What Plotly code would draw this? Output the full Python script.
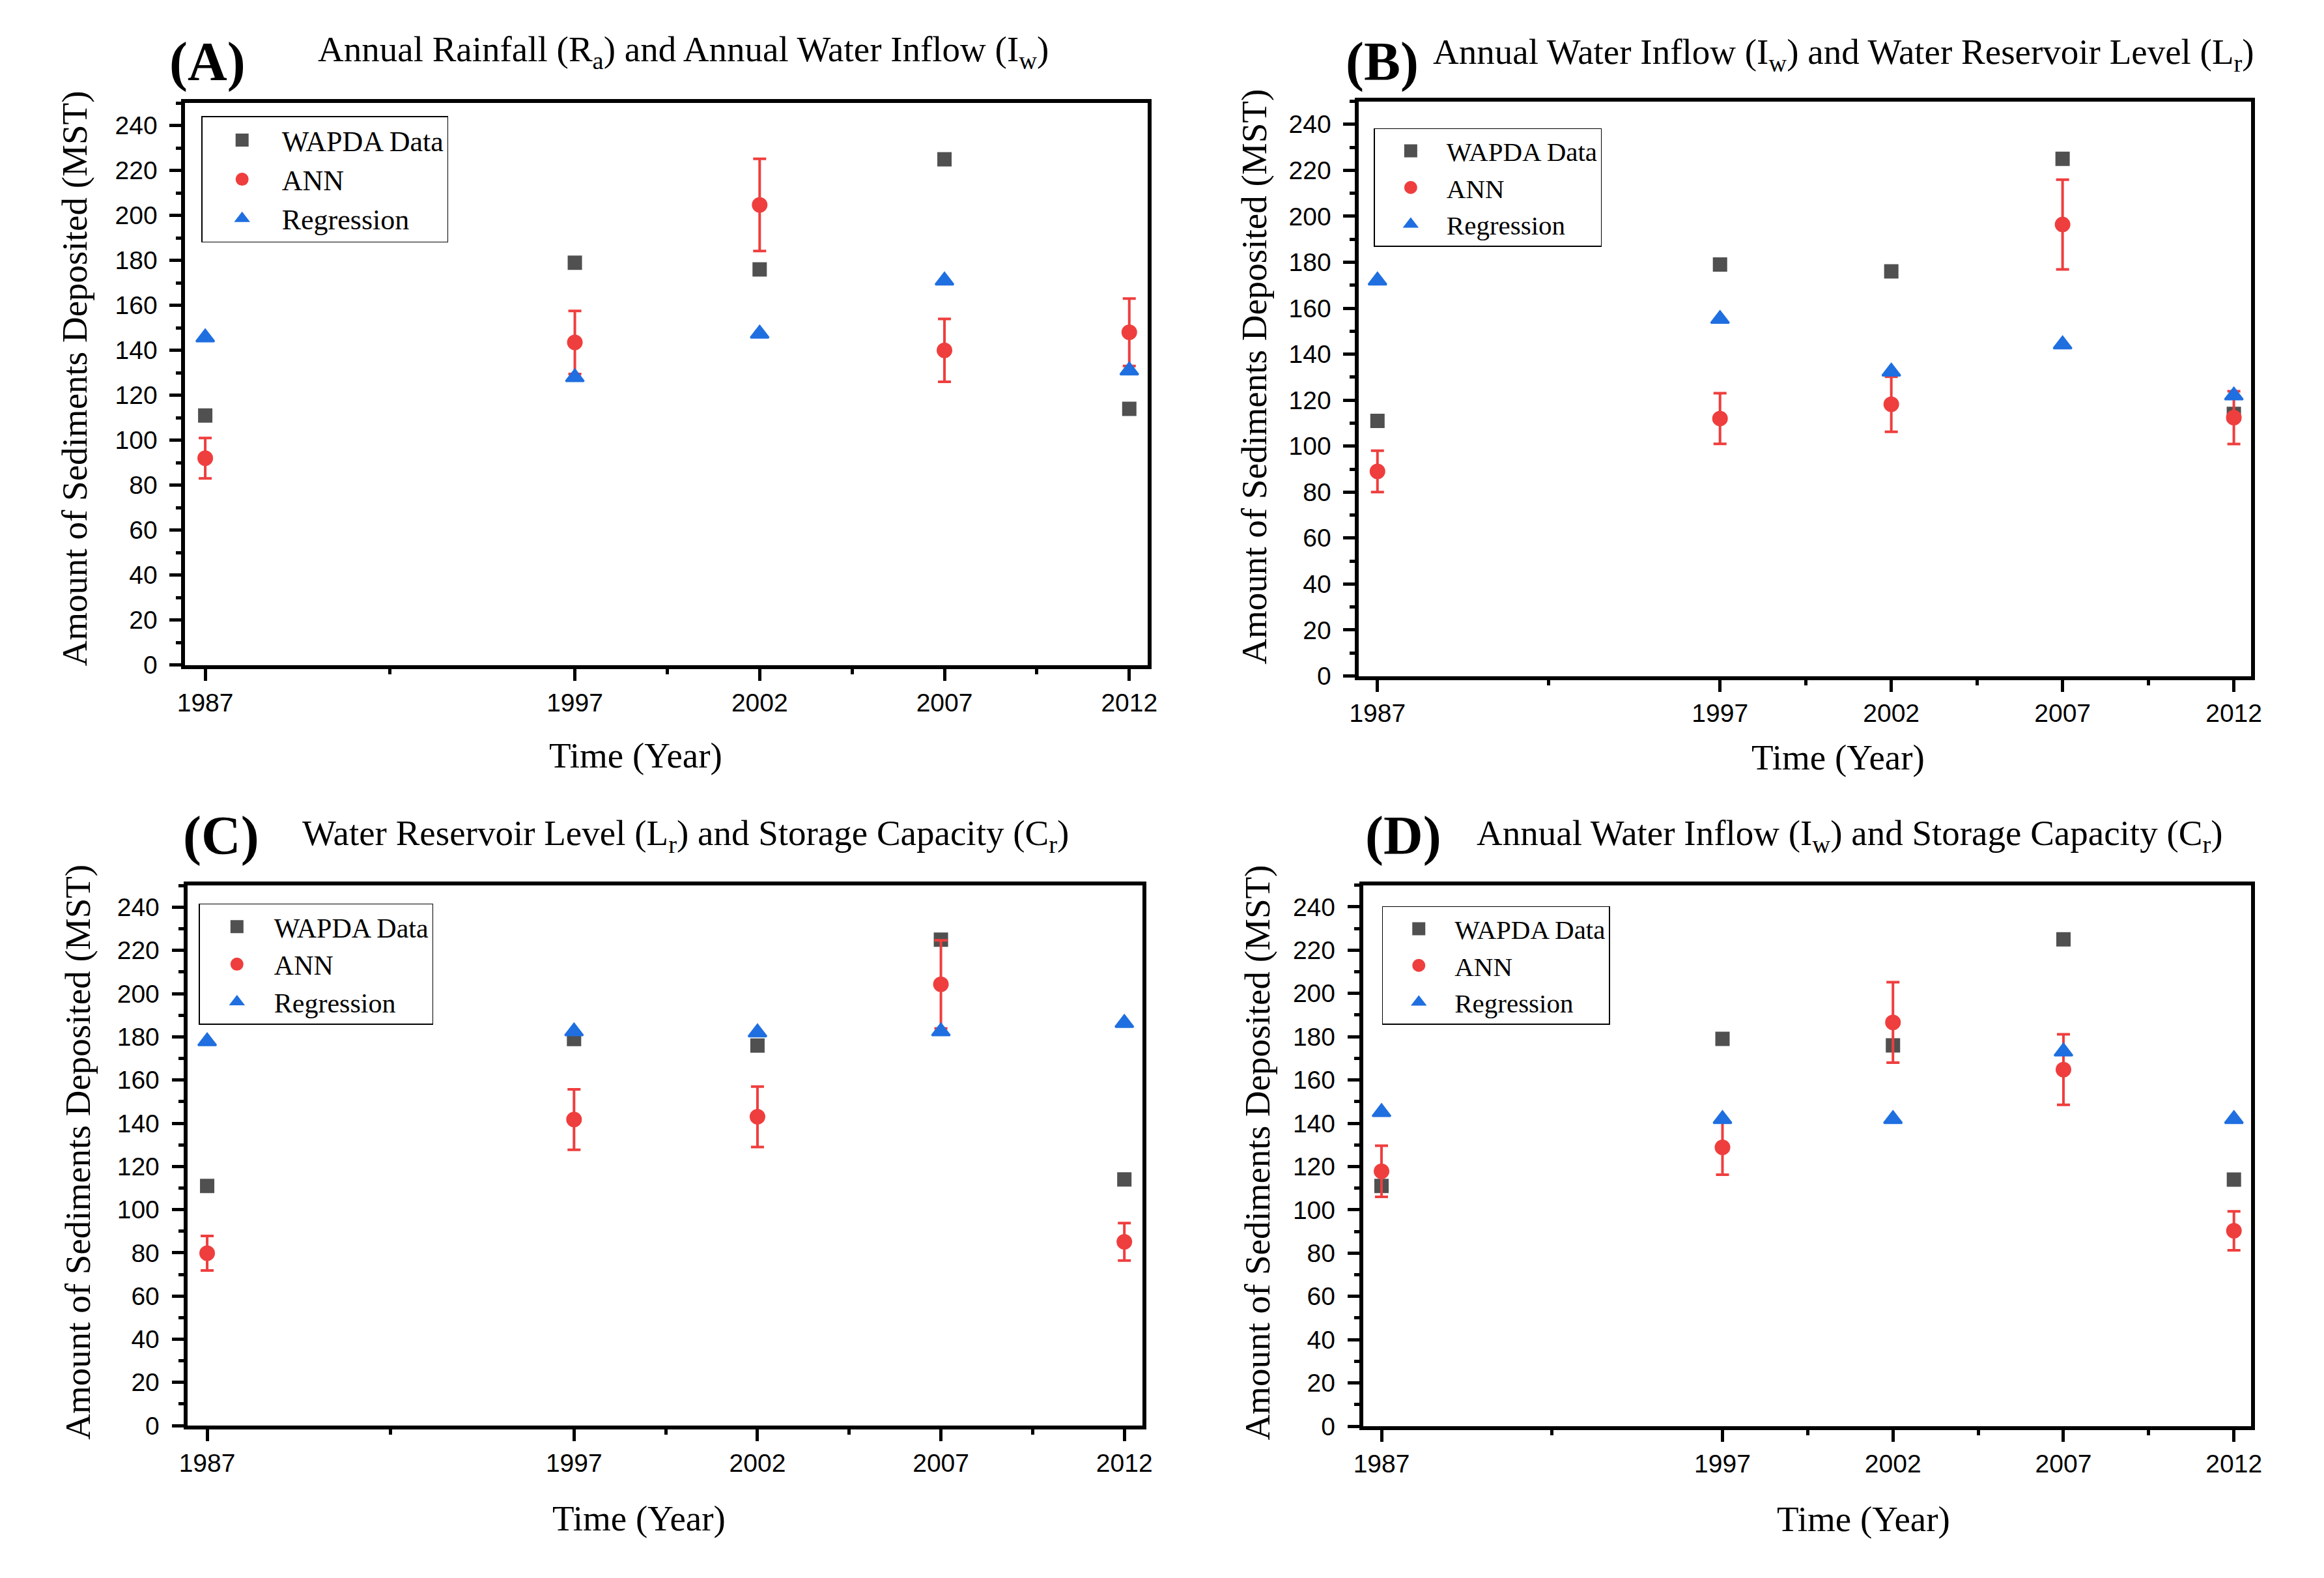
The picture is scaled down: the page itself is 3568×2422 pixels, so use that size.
import plotly.graph_objects as go

years = [1987, 1997, 2002, 2007, 2012]
x_ticks = [1987, 1997, 2002, 2007, 2012]
x_minor_ticks = [1992, 1999.5, 2004.5, 2009.5]

wapda = [111, 179, 176, 225, 114]

ann_A = [92, 143.5, 204.7, 140, 148]
ann_A_err = [9, 14, 20.5, 14, 15]
reg_A = [145.7, 128, 147.4, 171, 131]

ann_B = [89, 112, 118.2, 196.4, 112.4]
ann_B_err = [9, 11, 12, 19.5, 11.5]
reg_B = [172, 155.3, 132.4, 144.2, 122]

ann_C = [79.8, 141.7, 143, 204.3, 85.1]
ann_C_err = [8, 14, 14, 20.4, 8.7]
reg_C = [177.9, 182.5, 182, 182.5, 186.4]

ann_D = [117.8, 128.9, 186.6, 164.8, 90.3]
ann_D_err = [11.8, 12.7, 18.6, 16.3, 9]
reg_D = [145.1, 141.9, 141.9, 173.1, 141.9]

panel_letters = ["(A)", "(B)", "(C)", "(D)"]
panel_titles = [
    "Annual Rainfall (R<sub>a</sub>) and Annual Water Inflow (I<sub>w</sub>)",
    "Annual Water Inflow (I<sub>w</sub>) and Water Reservoir Level (L<sub>r</sub>)",
    "Water Reservoir Level (L<sub>r</sub>) and Storage Capacity (C<sub>r</sub>)",
    "Annual Water Inflow (I<sub>w</sub>) and Storage Capacity (C<sub>r</sub>)",
]
y_title = "Amount of Sediments Deposited (MST)"
x_title = "Time (Year)"
series_names = ["WAPDA Data", "ANN", "Regression"]

GRAY = "#505050"
RED = "#EF3E3E"
BLUE = "#1F6FE0"
SERIF = "Liberation Serif, Times New Roman, serif"
SANS = "Liberation Sans, Arial, sans-serif"

W, H = 3568, 2422

# layout geometry (paper fractions)
panels = [
    dict(x=[0.0762, 0.4941], y=[0.5747, 0.9341], legend=(0.0832, 0.9257), lfont=44, lw=112,
         letter=(0.0858, 0.9604), title=(0.2923, 0.9670), ytitle=(0.0282, 0.7580), xtitle=(0.2719, 0.5169)),
    dict(x=[0.5858, 0.9731], y=[0.5677, 0.9352], legend=(0.5923, 0.9180), lfont=41, lw=100,
         letter=(0.5959, 0.9604), title=(0.7961, 0.9653), ytitle=(0.5402, 0.7589), xtitle=(0.7937, 0.5157)),
    dict(x=[0.0771, 0.4919], y=[0.0883, 0.4336], legend=(0.0821, 0.4221), lfont=42, lw=104,
         letter=(0.0919, 0.4653), title=(0.2934, 0.4655), ytitle=(0.0297, 0.2630), xtitle=(0.2733, 0.0289)),
    dict(x=[0.5876, 0.9731], y=[0.0879, 0.4339], legend=(0.5958, 0.4205), lfont=41, lw=100,
         letter=(0.6050, 0.4653), title=(0.7988, 0.4655), ytitle=(0.5418, 0.2630), xtitle=(0.8049, 0.0285)),
]

anns = [ann_A, ann_B, ann_C, ann_D]
errs = [ann_A_err, ann_B_err, ann_C_err, ann_D_err]
regs = [reg_A, reg_B, reg_C, reg_D]

fig = go.Figure()
layout = dict(width=W, height=H, margin=dict(l=0, r=0, t=0, b=0),
              paper_bgcolor="white", plot_bgcolor="white", showlegend=True)
annotations = []

for i, p in enumerate(panels):
    n = i + 1
    xa = "x" if n == 1 else f"x{n}"
    ya = "y" if n == 1 else f"y{n}"
    lg = "legend" if n == 1 else f"legend{n}"
    fig.add_trace(go.Scatter(x=years, y=wapda, mode="markers", name=series_names[0],
                             marker=dict(symbol="square", size=18, color=GRAY,
                                         line=dict(color=GRAY, width=4)),
                             xaxis=xa, yaxis=ya, legend=lg))
    fig.add_trace(go.Scatter(x=years, y=anns[i], mode="markers", name=series_names[1],
                             marker=dict(symbol="circle", size=20, color=RED,
                                         line=dict(color=RED, width=4)),
                             error_y=dict(type="data", array=errs[i], visible=True,
                                          color=RED, thickness=4, width=10),
                             xaxis=xa, yaxis=ya, legend=lg))
    fig.add_trace(go.Scatter(x=years, y=regs[i], mode="markers", name=series_names[2],
                             marker=dict(symbol="triangle-up", size=24, color=BLUE,
                                         line=dict(color=BLUE, width=3)),
                             xaxis=xa, yaxis=ya, legend=lg))

    axis_common = dict(showline=True, linewidth=6, linecolor="black", mirror=True,
                       ticks="outside", tickwidth=5, tickcolor="black", showgrid=False,
                       zeroline=False, tickfont=dict(family=SANS, size=39, color="black"))
    layout["xaxis" if n == 1 else f"xaxis{n}"] = dict(
        domain=p["x"], anchor=ya, range=[1986.46, 2012.5], tickmode="array",
        tickvals=x_ticks, ticktext=[str(v) for v in x_ticks], ticklen=18,
        minor=dict(tickmode="array", tickvals=x_minor_ticks, ticks="outside",
                   ticklen=8, tickwidth=5, tickcolor="black"),
        **axis_common)
    layout["yaxis" if n == 1 else f"yaxis{n}"] = dict(
        domain=p["y"], anchor=xa, range=[0, 250], tickmode="linear", tick0=0, dtick=20,
        ticklen=18, ticklabelstandoff=11,
        minor=dict(tickmode="linear", tick0=10, dtick=20, ticks="outside",
                   ticklen=8, tickwidth=5, tickcolor="black"),
        **axis_common)
    layout[lg] = dict(x=p["legend"][0], y=p["legend"][1], xanchor="left", yanchor="top",
                      bgcolor="white", bordercolor="black", borderwidth=1.5,
                      font=dict(family=SERIF, size=p["lfont"], color="black"),
                      itemsizing="trace", itemwidth=p["lw"])

    annotations.append(dict(text=f"<b>{panel_letters[i]}</b>", x=p["letter"][0], y=p["letter"][1],
                            xref="paper", yref="paper", showarrow=False,
                            xanchor="center", yanchor="middle",
                            font=dict(family=SERIF, size=84, color="black")))
    annotations.append(dict(text=panel_titles[i], x=p["title"][0], y=p["title"][1],
                            xref="paper", yref="paper", showarrow=False,
                            xanchor="center", yanchor="middle",
                            font=dict(family=SERIF, size=55, color="black")))
    annotations.append(dict(text=y_title, x=p["ytitle"][0], y=p["ytitle"][1], textangle=-90,
                            xref="paper", yref="paper", showarrow=False,
                            xanchor="center", yanchor="middle",
                            font=dict(family=SERIF, size=55, color="black")))
    annotations.append(dict(text=x_title, x=p["xtitle"][0], y=p["xtitle"][1],
                            xref="paper", yref="paper", showarrow=False,
                            xanchor="center", yanchor="middle",
                            font=dict(family=SERIF, size=55, color="black")))

layout["annotations"] = annotations
fig.update_layout(**layout)
fig.write_html("out.html", config={"displayModeBar": False},
               post_script="document.body.style.margin='0';")
